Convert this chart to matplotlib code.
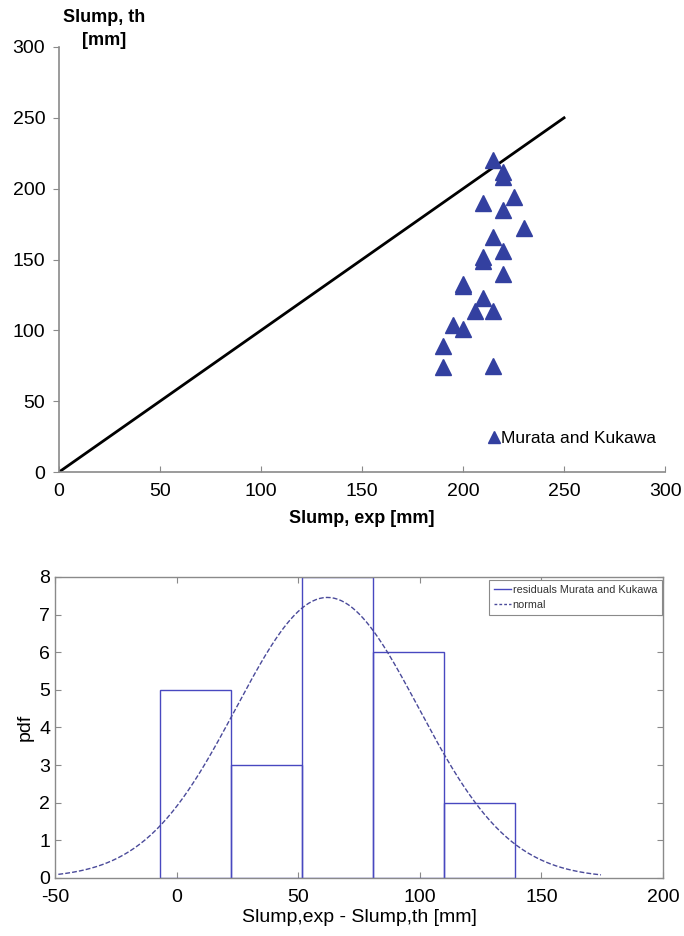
import numpy as np
import matplotlib
matplotlib.use("Agg")
import matplotlib.pyplot as plt
from matplotlib.lines import Line2D

plt.rcParams['font.family'] = ['Liberation Sans', 'DejaVu Sans']
plt.rcParams['axes.unicode_minus'] = False

# measured vs. predicted slump (Murata and Kukawa)
slump_exp = [215, 220, 220, 225, 210, 220, 230, 215, 210, 210, 220,
             220, 200, 200, 210, 206, 215, 195, 200, 190, 190, 215]
slump_th = [220, 212, 208, 194, 190, 185, 172, 166, 152, 149, 156,
            140, 133, 131, 123, 114, 114, 104, 101, 89, 74, 75]

# equality line
line_x = [0, 250]
line_y = [0, 250]

# histogram of residuals
bin_edges = [-6.8, 22.4, 51.6, 80.8, 110.0, 139.2]
bin_counts = [5, 3, 8, 6, 2]

# fitted normal distribution
res_mean = 62.0
res_std = 37.5

marker_blue = '#3340a0'
hist_blue = '#4848c0'
curve_blue = '#4a4a9a'
spine_gray = '#8a8a8a'

fig = plt.figure(figsize=(6.84, 9.36), dpi=100)

# ---- scatter: experimental vs theoretical slump ----
ax1 = fig.add_axes([0.0863, 0.4957, 0.8860, 0.4541])
ax1.plot(line_x, line_y, color='black', lw=2, zorder=2)
ax1.plot(slump_exp, slump_th, linestyle='none', marker='^', markersize=11.5,
         color=marker_blue, label='Murata and Kukawa', zorder=3)
ax1.set_xlim(0, 300)
ax1.set_ylim(0, 300)
ax1.set_xticks(range(0, 301, 50))
ax1.set_yticks(range(0, 301, 50))
for side in ['top', 'right']:
    ax1.spines[side].set_visible(False)
for side in ['left', 'bottom']:
    ax1.spines[side].set_color(spine_gray)
    ax1.spines[side].set_linewidth(1.2)
ax1.tick_params(axis='x', direction='in', length=4, color=spine_gray,
                labelsize=14, pad=8)
ax1.tick_params(axis='y', direction='out', length=4, color=spine_gray,
                labelsize=14, pad=6)
ax1.set_xlabel('Slump, exp [mm]', fontsize=13, fontweight='bold', labelpad=7)
fig.text(0.152, 0.969, 'Slump, th\n[mm]', fontsize=13, fontweight='bold',
         ha='center', va='center', linespacing=1.45)
ax1.legend(loc='lower right', bbox_to_anchor=(1.0, 0.04), frameon=False,
           fontsize=12.5, handlelength=0.5, handletextpad=0.15,
           markerscale=0.75, borderpad=0)

# ---- histogram of residuals with normal fit ----
ax2 = fig.add_axes([0.0804, 0.0620, 0.8889, 0.3216])
bin_edges = np.array(bin_edges)
bin_counts = np.array(bin_counts)
ax2.bar(bin_edges[:-1], bin_counts, width=np.diff(bin_edges), align='edge',
        facecolor='none', edgecolor=hist_blue, linewidth=1.0, zorder=2)

bin_width = np.mean(np.diff(bin_edges))
scale = bin_counts.sum() * bin_width / (res_std * np.sqrt(2 * np.pi))
xs = np.linspace(res_mean - 2.95 * res_std, res_mean + 3.0 * res_std, 300)
ax2.plot(xs, scale * np.exp(-0.5 * ((xs - res_mean) / res_std) ** 2),
         linestyle='--', dashes=(3.5, 1.5), color=curve_blue, lw=1.0, zorder=3)

ax2.set_xlim(-50, 200)
ax2.set_ylim(0, 8)
ax2.set_xticks(range(-50, 201, 50))
ax2.set_yticks(range(0, 9))
for side in ax2.spines.values():
    side.set_color(spine_gray)
    side.set_linewidth(1.0)
ax2.tick_params(direction='in', length=4, color=spine_gray, top=True,
                right=True, labelsize=14)
ax2.tick_params(axis='x', pad=8)
ax2.set_xlabel('Slump,exp - Slump,th [mm]', fontsize=14, labelpad=2)
ax2.set_ylabel('pdf', fontsize=14, labelpad=4)

handles = [Line2D([0], [0], color=hist_blue, lw=1.0),
           Line2D([0], [0], color=curve_blue, lw=1.0, linestyle='--',
                  dashes=(2, 1.5))]
leg = ax2.legend(handles, ['residuals Murata and Kukawa', 'normal'],
                 loc='upper right', bbox_to_anchor=(0.998, 0.99),
                 fontsize=7.8, handlelength=1.6, handletextpad=0.15,
                 labelspacing=0.45, borderpad=0.45, fancybox=False,
                 framealpha=1, borderaxespad=0)
leg.get_frame().set_edgecolor(spine_gray)
leg.get_frame().set_linewidth(0.8)
leg.get_frame().set_boxstyle('square', pad=0)
leg._legend_box.align = 'left'
for t in leg.get_texts():
    t.set_color('#333333')

fig.savefig('out.png', dpi=100)
plt.close(fig)
